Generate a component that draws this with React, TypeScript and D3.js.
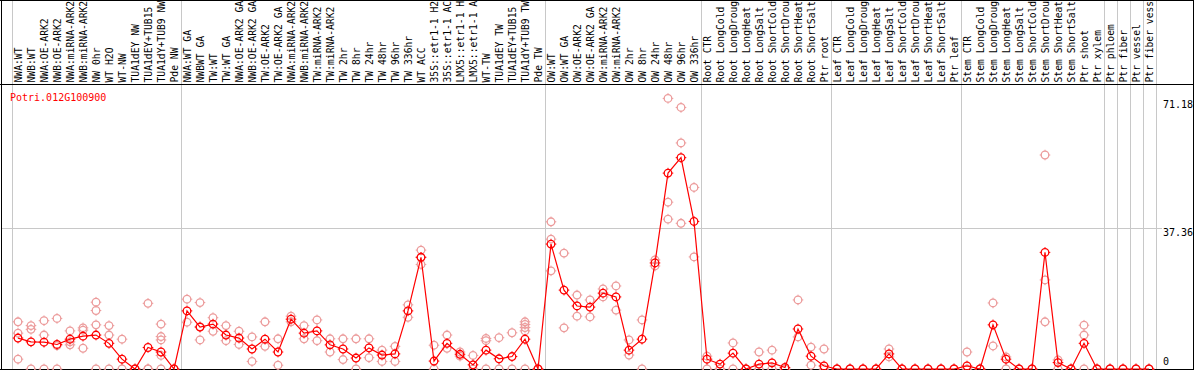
import { useEffect, useRef } from 'react'
import * as d3 from 'd3'

const geneName = 'Potri.012G100900'

// sample names as printed (the chart cuts them at 14 characters)
const labels = [
  'NWA:WT', 'NWB:WT', 'NWA:OE-ARK2', 'NWB:OE-ARK2', 'NWA:miRNA-ARK2', 'NWB:miRNA-ARK2', 'NW 0hr', 'WT H2O', 'WT-NW',
  'TUA1dEY NW', 'TUA1dEY+TUB15', 'TUA1dY+TUB9 NW', 'Pde NW',
  'NWA:WT GA', 'NWBWT GA', 'TW:WT', 'TW:WT GA', 'NWA:OE-ARK2 GA', 'NWB:OE-ARK2 GA', 'TW:OE-ARK2', 'TW:OE-ARK2 GA',
  'NWA:miRNA-ARK2', 'NWB:miRNA-ARK2', 'TW:miRNA-ARK2', 'TW:miRNA-ARK2', 'TW 2hr', 'TW 8hr', 'TW 24hr', 'TW 48hr',
  'TW 96hr', 'TW 336hr', 'WT ACC', '35S::etr1-1 H2', '35S::etr1-1 AC', 'LMX5::etr1-1 H', 'LMX5::etr1-1 A',
  'WT-TW', 'TUA1dEY TW', 'TUA1dEY+TUB15', 'TUA1dY+TUB9 TW', 'Pde TW',
  'OW:WT', 'OW:WT GA', 'OW:OE-ARK2', 'OW:OE-ARK2 GA', 'OW:miRNA-ARK2', 'OW:miRNA-ARK2', 'OW 2hr', 'OW 8hr',
  'OW 24hr', 'OW 48hr', 'OW 96hr', 'OW 336hr',
  'Root CTR', 'Root LongCold', 'Root LongDroug', 'Root LongHeat', 'Root LongSalt', 'Root ShortCold',
  'Root ShortDrou', 'Root ShortHeat', 'Root ShortSalt', 'Ptr root',
  'Leaf CTR', 'Leaf LongCold', 'Leaf LongDroug', 'Leaf LongHeat', 'Leaf LongSalt', 'Leaf ShortCold',
  'Leaf ShortDrou', 'Leaf ShortHeat', 'Leaf ShortSalt', 'Ptr leaf',
  'Stem CTR', 'Stem LongCold', 'Stem LongDroug', 'Stem LongHeat', 'Stem LongSalt', 'Stem ShortCold',
  'Stem ShortDrou', 'Stem ShortHeat', 'Stem ShortSalt', 'Ptr shoot', 'Ptr xylem',
  'Ptr phloem', 'Ptr fiber', 'Ptr vessel', 'Ptr fiber vess',
]

// mean expression per sample (red line)
const means = [
  8.2, 7.2, 7.1, 6.5, 7.9, 8.7, 9.0, 6.8, 2.6, 0, 5.7, 4.5, 0,
  15.4, 11.1, 11.9, 9.0, 8.2, 5.3, 7.9, 4.5, 13.2, 9.5, 10.1, 6.4, 5.3, 2.9, 5.6, 3.7, 4.0, 15.4, 29.6,
  2.1, 6.8, 3.9, 1.1, 5.0, 2.7, 3.3, 7.9, 0,
  33.1, 20.9, 16.7, 16.4, 20.1, 19.1, 5.0, 7.9, 28.1, 51.9, 56.0, 39.1,
  2.6, 1.3, 4.2, 0, 1.3, 1.6, 0.4, 10.6, 3.4, 0.8,
  0, 0, 0, 0, 4.0, 0, 0, 0, 0, 0,
  0.8, 0, 11.7, 2.6, 0, 0, 30.9, 1.7, 0, 6.8, 0,
  0, 0, 0, 0,
]

// individual replicates (pale circles)
const replicates = [
  [12.5, 9.5, 2.6], [11.5, 10.5, 0], [12.8, 9.0, 0], [13.4, 6.2, 0], [10.1, 7.2, 6.4], [10.9, 10.3, 5.5],
  [17.7, 15.5, 11.7, 0], [11.5, 9.0, 0], [7.9, 0], [0, 0], [17.4, 0, 0], [11.9, 8.6, 7.7, 3.6, 0], [0, 0],
  [18.5, 12.4], [17.6, 11.2, 7.7], [13.6, 10], [11.5, 7.5], [10, 6.5], [8.5, 2], [12.5, 6], [8, 1],
  [14, 12.5], [11.5, 8], [13, 7.5], [8, 4.5], [8, 2.5], [8, 0], [8, 3], [5, 2], [6, 2],
  [17.0, 13.7], [31.5, 29.6, 27.7], [6.3, 0], [9.0, 5.5], [4.5, 3.4], [3.6, 0], [8.1, 7.5, 0], [8.3, 0],
  [9.6, 0], [12.5, 11.8, 11.0, 10.1, 0], [0, 0],
  [39, 34.4, 26.0], [30.7, 10.9], [19.6, 14], [18.3, 13.8], [21.2, 19.1], [22, 15.6], [7.7, 3.7], [13, 0],
  [28.9, 27.3], [71.7, 44.2, 39.7], [69.3, 59.9, 38.6], [48.1, 29.7],
  [3.4, 0], [0, 0], [6.9, 0], [0, 0], [4.5, 0], [5, 0], [0, 0], [18.3, 8.5], [5.8, 1], [5.3, 0],
  [0, 0], [0, 0], [0, 0], [0, 0], [5.3, 3.2], [0, 0], [0, 0], [0, 0], [0, 0], [0, 0],
  [4.5, 0], [0, 0], [17.5, 6.1], [3.2, 0], [0, 0], [0, 0], [56.7, 23.6, 12.5], [2.4, 0], [0, 0],
  [11.6, 9.0, 0], [0, 0],
  [0, 0], [0, 0], [0, 0], [0, 0],
]

// first sample index of each boxed group
const groupStarts = [0, 13, 41, 53, 63, 73, 84, 85, 86, 87, 88]
const yLabels = [71.18, 37.36, 0]

const W = 1194
const H = 370
const FONT = '"DejaVu Sans Mono", monospace'

export default function App() {
  const ref = useRef<SVGSVGElement>(null)

  useEffect(() => {
    if (!ref.current) return
    const svg = d3.select(ref.current)
    svg.selectAll('*').remove()

    const x = d3.scaleBand<number>().domain(d3.range(labels.length)).range([11.5, 1155.5]).padding(0)
    const cx = (i: number) => (x(i) as number) + x.bandwidth() / 2
    const xEdge = (i: number) => (i === labels.length ? 1155.5 : (x(i) as number))
    const y = d3.scaleLinear().domain([0, 37.36]).range([369, 228])

    svg.append('rect').attr('width', W).attr('height', H).attr('fill', '#fff')

    // grid
    svg.append('line')
      .attr('x1', 1).attr('x2', 1162).attr('y1', y(37.36) + 0.5).attr('y2', y(37.36) + 0.5)
      .attr('stroke', '#c8c8c8')
    svg.selectAll('line.sep')
      .data(groupStarts)
      .join('line')
      .attr('class', 'sep')
      .attr('x1', (d) => Math.round(xEdge(d)) + 0.5)
      .attr('x2', (d) => Math.round(xEdge(d)) + 0.5)
      .attr('y1', 0).attr('y2', H)
      .attr('stroke', '#c8c8c8')

    // sample labels
    svg.append('g')
      .selectAll('text')
      .data(labels)
      .join('text')
      .attr('transform', (_, i) => `translate(${cx(i) + 4},82.5) rotate(-90)`)
      .attr('font-family', FONT).attr('font-size', 9.7).attr('fill', '#000')
      .text((d) => d)

    // frame
    svg.append('line').attr('x1', 0).attr('x2', W).attr('y1', 0.5).attr('y2', 0.5).attr('stroke', '#000')
    svg.append('line').attr('x1', 0).attr('x2', W).attr('y1', 84.5).attr('y2', 84.5).attr('stroke', '#000')
    svg.append('line').attr('x1', 0).attr('x2', W).attr('y1', 369.5).attr('y2', 369.5).attr('stroke', '#000')
    svg.append('line').attr('x1', 1.5).attr('x2', 1.5).attr('y1', 0).attr('y2', H).attr('stroke', '#000')
    svg.append('line').attr('x1', 1193.5).attr('x2', 1193.5).attr('y1', 0).attr('y2', H).attr('stroke', '#000')

    // y labels
    svg.append('g')
      .selectAll('text')
      .data(yLabels)
      .join('text')
      .attr('x', 1163)
      .attr('y', (d) => (d === 0 ? y(d) - 4 : y(d) + 8))
      .attr('font-family', FONT).attr('font-size', 10).attr('fill', '#000')
      .text((d) => String(d))

    svg.append('text')
      .attr('x', 10).attr('y', 101)
      .attr('font-family', FONT).attr('font-size', 10).attr('fill', '#ff0000')
      .text(geneName)

    const marker = (g: d3.Selection<SVGGElement, unknown, null, undefined>, px: number, py: number, color: string) => {
      const m = g.append('g').attr('transform', `translate(${px},${py})`).attr('stroke', color).attr('fill', 'none').attr('stroke-width', 1.3)
      m.append('circle').attr('r', 3.8)
      m.append('path').attr('d', 'M0,-3.8V-5.3M0,3.8V5.3M-3.8,0H-5.3M3.8,0H5.3').attr('stroke-width', 1)
    }

    const pts = svg.append('g')
    replicates.forEach((reps, i) => {
      reps.forEach((v) => marker(pts, cx(i), y(v), '#ec9c9c'))
    })

    const line = d3.line<number>().x((_, i) => cx(i)).y((d) => y(d))
    svg.append('path').datum(means).attr('d', line).attr('fill', 'none').attr('stroke', '#ff0000').attr('stroke-width', 1.2)

    const mg = svg.append('g')
    means.forEach((v, i) => marker(mg, cx(i), y(v), '#ff0000'))
  }, [])

  return <svg ref={ref} width={W} height={H} style={{ position: 'absolute', left: 0, top: 0, display: 'block' }} />
}
